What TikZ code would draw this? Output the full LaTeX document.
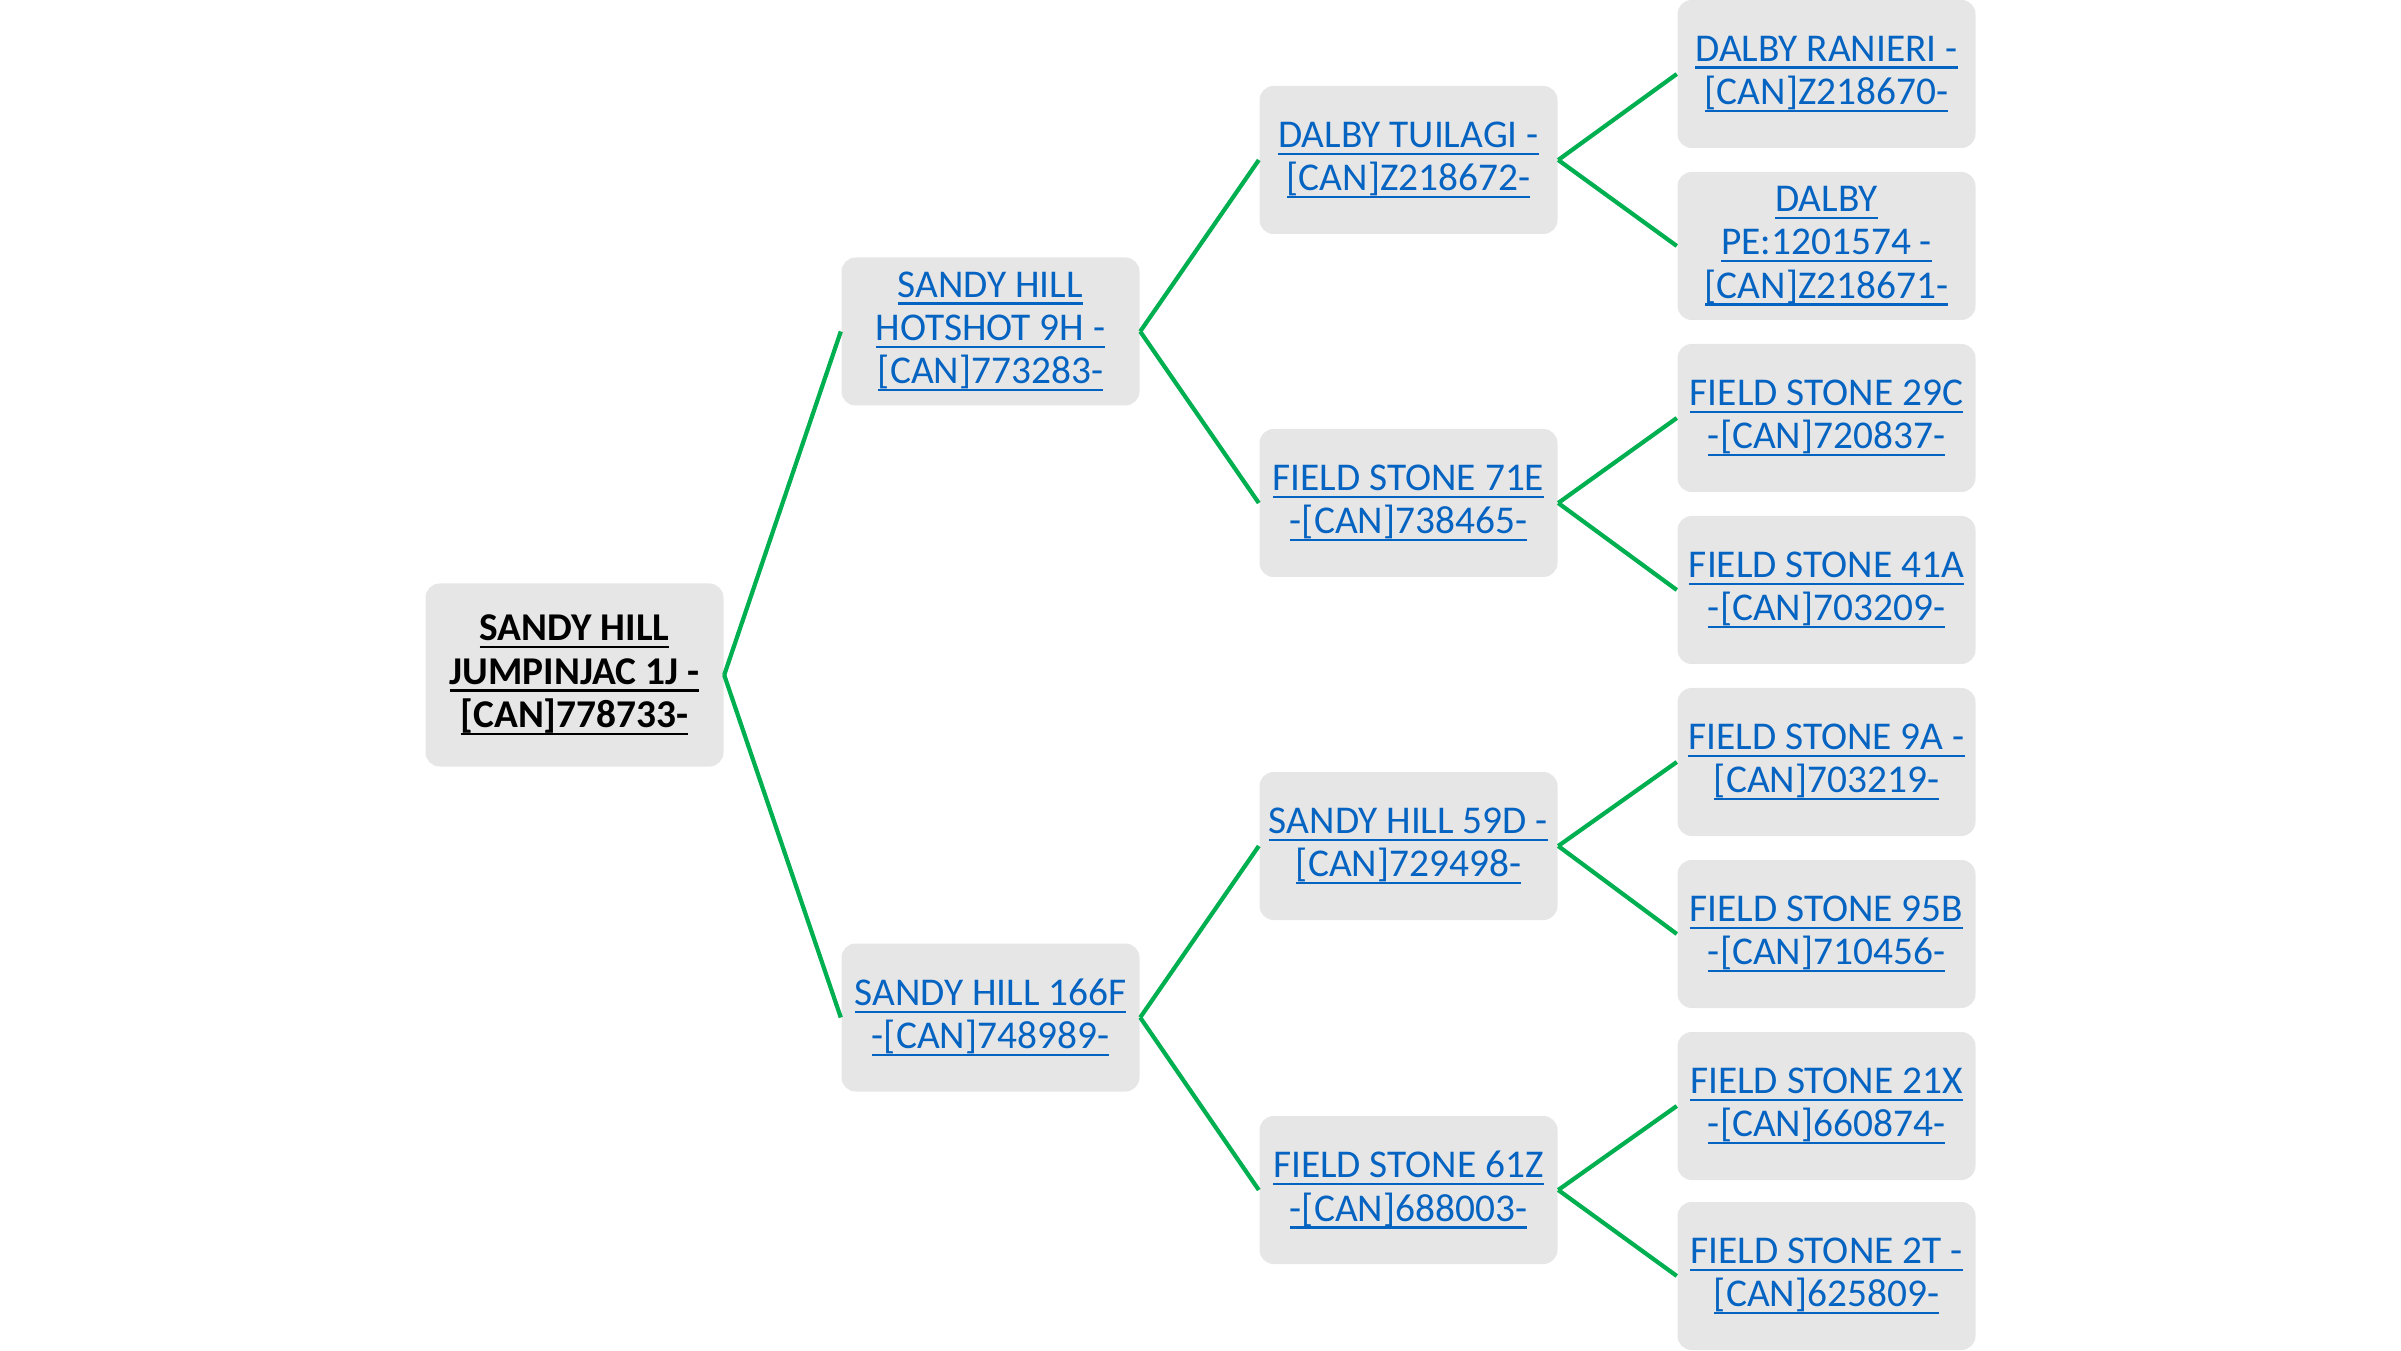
\documentclass[tikz,border=0pt]{standalone}
\usepackage{fontspec}
\setmainfont{Carlito}
\usepackage{xcolor}
\usepackage{tikz}
\usetikzlibrary{positioning}

\definecolor{boxgray}{HTML}{E7E6E6}
\definecolor{linkblue}{HTML}{0563C1}
\definecolor{treegreen}{HTML}{00B050}

% underlined line of a name
\newcommand{\lk}[1]{\setbox0=\hbox{#1}\rlap{\rule[-0.19em]{\wd0}{0.06em}}\box0}

\begin{document}
\begin{tikzpicture}[
box/.style={fill=boxgray, rounded corners=4pt, minimum width=2.98cm, minimum height=1.48cm, align=center, inner sep=2pt, text=linkblue, font=\fontsize{11.2}{12.3}\selectfont},
rootbox/.style={box, minimum height=1.83cm, text=black, font=\fontsize{11.2}{12.3}\selectfont\bfseries},
link/.style={treegreen, line width=1.2pt}
]
\useasboundingbox (0,0) rectangle (24.01,13.5);

% animal
\node[rootbox] (jumpinjac) at (5.745,6.75) {\lk{SANDY HILL}\\\lk{JUMPINJAC 1J -}\\\lk{[CAN]778733-}};

% parents
\node[box] (hotshot) at (9.905,10.185) {\lk{SANDY HILL}\\\lk{HOTSHOT 9H -}\\\lk{[CAN]773283-}};
\node[box] (sh166f) at (9.905,3.325) {\lk{SANDY HILL 166F}\\\lk{-[CAN]748989-}};

% grandparents
\node[box] (tuilagi) at (14.085,11.9) {\lk{DALBY TUILAGI -}\\\lk{[CAN]Z218672-}};
\node[box] (fs71e) at (14.085,8.47) {\lk{FIELD STONE 71E}\\\lk{-[CAN]738465-}};
\node[box] (sh59d) at (14.085,5.04) {\lk{SANDY HILL 59D -}\\\lk{[CAN]729498-}};
\node[box] (fs61z) at (14.085,1.6) {\lk{FIELD STONE 61Z}\\\lk{-[CAN]688003-}};

% great-grandparents
\node[box] (ranieri) at (18.265,12.76) {\lk{DALBY RANIERI -}\\\lk{[CAN]Z218670-}};
\node[box] (dalbype) at (18.265,11.04) {\lk{DALBY}\\\lk{PE:1201574 -}\\\lk{[CAN]Z218671-}};
\node[box] (fs29c) at (18.265,9.32) {\lk{FIELD STONE 29C}\\\lk{-[CAN]720837-}};
\node[box] (fs41a) at (18.265,7.6) {\lk{FIELD STONE 41A}\\\lk{-[CAN]703209-}};
\node[box] (fs9a) at (18.265,5.88) {\lk{FIELD STONE 9A -}\\\lk{[CAN]703219-}};
\node[box] (fs95b) at (18.265,4.16) {\lk{FIELD STONE 95B}\\\lk{-[CAN]710456-}};
\node[box] (fs21x) at (18.265,2.44) {\lk{FIELD STONE 21X}\\\lk{-[CAN]660874-}};
\node[box] (fs2t) at (18.265,0.74) {\lk{FIELD STONE 2T -}\\\lk{[CAN]625809-}};

\draw[link] (jumpinjac.east) -- (hotshot.west);
\draw[link] (jumpinjac.east) -- (sh166f.west);
\draw[link] (hotshot.east) -- (tuilagi.west);
\draw[link] (hotshot.east) -- (fs71e.west);
\draw[link] (sh166f.east) -- (sh59d.west);
\draw[link] (sh166f.east) -- (fs61z.west);
\draw[link] (tuilagi.east) -- (ranieri.west);
\draw[link] (tuilagi.east) -- (dalbype.west);
\draw[link] (fs71e.east) -- (fs29c.west);
\draw[link] (fs71e.east) -- (fs41a.west);
\draw[link] (sh59d.east) -- (fs9a.west);
\draw[link] (sh59d.east) -- (fs95b.west);
\draw[link] (fs61z.east) -- (fs21x.west);
\draw[link] (fs61z.east) -- (fs2t.west);
\end{tikzpicture}
\end{document}
